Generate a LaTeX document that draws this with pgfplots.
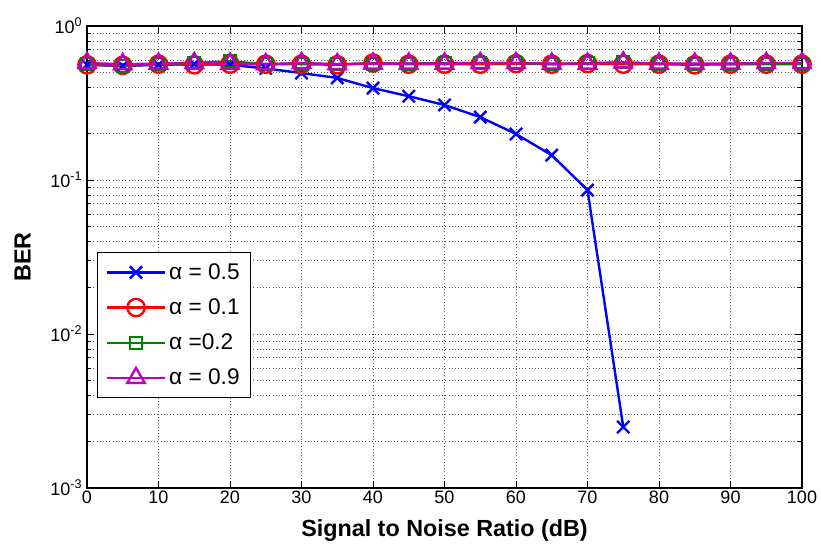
\documentclass[border=0pt]{standalone}
\usepackage{pgfplots}
\pgfplotsset{compat=1.18}
\usepackage{fontspec}
\setmainfont{Liberation Sans}
\definecolor{mblue}{RGB}{0,0,255}
\definecolor{mred}{RGB}{255,0,0}
\definecolor{mgreen}{RGB}{0,128,0}
\definecolor{mmag}{RGB}{191,0,191}
\pgfplotsset{
  mylegimg/.style={legend image code/.code={
    \draw[mark repeat=2,mark phase=2,##1] plot coordinates {(0pt,0pt) (22pt,0pt) (44pt,0pt)};}}
}
\begin{document}
\begin{tikzpicture}
\begin{axis}[
  scale only axis,
  width=536.25pt, height=346.5pt,
  xmin=0, xmax=100, ymin=1e-3, ymax=1,
  ymode=log,
  xtick={0,10,...,100},
  ytick={1e-3,1e-2,1e-1,1},
  yticklabels={10\textsuperscript{-3},10\textsuperscript{-2},10\textsuperscript{-1},10\textsuperscript{0}},
  /pgf/number format/assume math mode=true,
  tick align=inside,
  xtick pos=both, ytick pos=both,
  minor x tick num=0,
  grid=both,
  major grid style={black!65, dotted, line width=0.6pt},
  minor grid style={black!65, dotted, line width=0.6pt},
  axis line style={line width=0.9pt},
  tick style={black, line width=0.6pt},
  major tick length=5pt, minor tick length=3pt,
  tick label style={font=\fontsize{13.5}{15}\selectfont},
  xticklabel style={yshift=1pt},
  xlabel={Signal to Noise Ratio (dB)},
  ylabel={BER},
  label style={font=\fontsize{17.5}{19}\selectfont\bfseries},
  xlabel style={yshift=-5pt},
  ylabel style={yshift=8pt},
  legend style={at={(0.014,0.195)}, anchor=south west, draw=black, line width=0.7pt,
    font=\fontsize{17}{19}\selectfont, row sep=9pt, inner xsep=6pt, inner ysep=6pt},
  legend cell align=left,
  mylegimg,
]
\addplot[mblue, line width=1.8pt, mark=x, mark size=6.5pt, mark options={line width=1.8pt}] coordinates {
(0,0.56) (5,0.55) (10,0.56) (15,0.565) (20,0.56) (25,0.53) (30,0.495) (35,0.46) (40,0.395) (45,0.35) (50,0.307) (55,0.256) (60,0.199) (65,0.145) (70,0.086) (75,0.00249)};
\addlegendentry{α = 0.5}
\addplot[mred, line width=1.8pt, mark=o, mark size=6.5pt, mark options={line width=1.8pt}] coordinates {
(0,0.56) (5,0.555) (10,0.565) (15,0.56) (20,0.565) (25,0.565) (30,0.565) (35,0.56) (40,0.575) (45,0.565) (50,0.565) (55,0.565) (60,0.57) (65,0.565) (70,0.57) (75,0.565) (80,0.565) (85,0.56) (90,0.565) (95,0.565) (100,0.565)};
\addlegendentry{α = 0.1}
\addplot[mgreen, line width=1.8pt, mark=square, mark size=4.5pt, mark options={line width=1.5pt}] coordinates {
(0,0.565) (5,0.55) (10,0.565) (15,0.575) (20,0.59) (25,0.565) (30,0.57) (35,0.565) (40,0.57) (45,0.57) (50,0.575) (55,0.575) (60,0.575) (65,0.565) (70,0.575) (75,0.58) (80,0.57) (85,0.565) (90,0.565) (95,0.57) (100,0.57)};
\addlegendentry{α =0.2}
\addplot[mmag, line width=1.8pt, mark=triangle, mark size=7.5pt, mark options={line width=1.8pt}] coordinates {
(0,0.575) (5,0.565) (10,0.57) (15,0.575) (20,0.57) (25,0.565) (30,0.575) (35,0.565) (40,0.57) (45,0.57) (50,0.57) (55,0.575) (60,0.575) (65,0.57) (70,0.57) (75,0.58) (80,0.57) (85,0.57) (90,0.57) (95,0.575) (100,0.575)};
\addlegendentry{α = 0.9}
\end{axis}
\pgfresetboundingbox
\path[use as bounding box] (current axis.south west) ++(-65.25pt,-42.75pt) rectangle ([xshift=14.25pt,yshift=19.5pt]current axis.north east);
\end{tikzpicture}
\end{document}
